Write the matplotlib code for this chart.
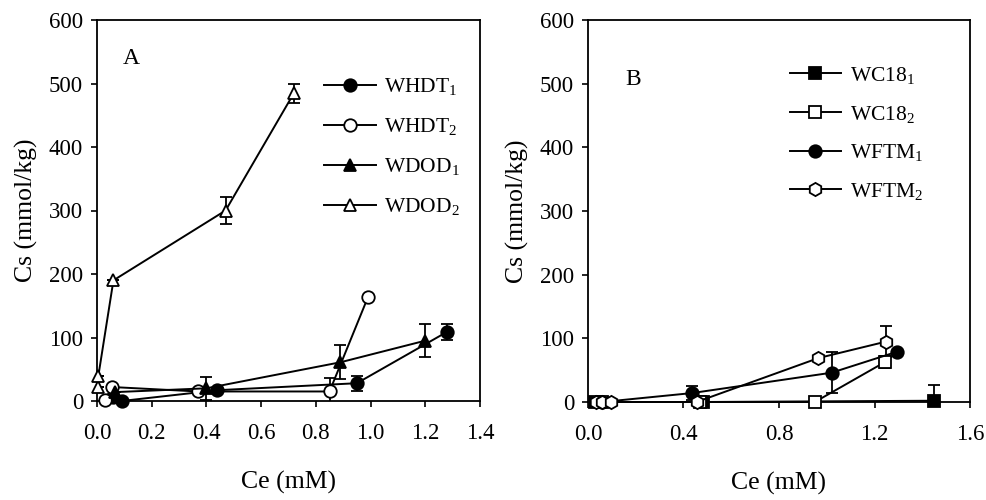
import matplotlib
matplotlib.use('Agg')
import matplotlib.pyplot as plt

plt.rcParams['font.family'] = ['Liberation Serif', 'DejaVu Serif']
plt.rcParams['mathtext.fontset'] = 'custom'
plt.rcParams['mathtext.rm'] = 'Liberation Serif'
plt.rcParams['mathtext.default'] = 'rm'
plt.rcParams['font.size'] = 15

# panel A
whdt1_x = [0.06, 0.09, 0.44, 0.95, 1.28]
whdt1_y = [6, 0, 17, 28, 109]
whdt1_err = [0, 0, 0, 12, 13]

whdt2_x = [0.03, 0.055, 0.37, 0.85, 0.99]
whdt2_y = [2, 22, 15, 15, 163]
whdt2_err = [0, 0, 0, 22, 0]

wdod1_x = [0.066, 0.40, 0.89, 1.20]
wdod1_y = [14, 20, 61, 95]
wdod1_err = [0, 18, 27, 26]

wdod2_x = [0.005, 0.005, 0.06, 0.47, 0.72]
wdod2_y = [22, 40, 190, 300, 485]
wdod2_err = [0, 0, 0, 22, 15]

# panel B
wc181_x = [0.03, 0.48, 1.45]
wc181_y = [0, 0, 2]
wc181_err = [0, 0, 24]

wc182_x = [0.06, 0.47, 0.95, 1.245]
wc182_y = [0, 0, 0, 63]
wc182_err = [0, 0, 0, 10]

wftm1_x = [0.06, 0.435, 1.02, 1.295]
wftm1_y = [0, 14, 46, 79]
wftm1_err = [0, 11, 32, 0]

wftm2_x = [0.033, 0.06, 0.097, 0.455, 0.965, 1.25]
wftm2_y = [0, 0, 0, 0, 69, 95]
wftm2_err = [0, 0, 0, 0, 0, 25]


def draw(ax, x, y, err, marker, fill, label, ms=9):
    ax.errorbar(x, y, yerr=err, fmt='none', ecolor='black', elinewidth=1.3,
                capsize=4, capthick=1.3, zorder=2)
    ax.plot(x, y, color='black', lw=1.4, marker=marker, ms=ms,
            markerfacecolor=fill, markeredgecolor='black', markeredgewidth=1.3,
            label=label, clip_on=False, zorder=3)


fig = plt.figure(figsize=(9.87, 5.0), dpi=100)
axA = fig.add_axes([0.0983, 0.198, 0.388, 0.762])
axB = fig.add_axes([0.5957, 0.196, 0.3871, 0.764])

draw(axA, whdt1_x, whdt1_y, whdt1_err, 'o', 'black', 'WHDT$_1$')
draw(axA, whdt2_x, whdt2_y, whdt2_err, 'o', 'white', 'WHDT$_2$')
draw(axA, wdod1_x, wdod1_y, wdod1_err, '^', 'black', 'WDOD$_1$')
draw(axA, wdod2_x, wdod2_y, wdod2_err, '^', 'white', 'WDOD$_2$')

draw(axB, wc181_x, wc181_y, wc181_err, 's', 'black', 'WC18$_1$', ms=8)
draw(axB, wc182_x, wc182_y, wc182_err, 's', 'white', 'WC18$_2$', ms=8)
draw(axB, wftm1_x, wftm1_y, wftm1_err, 'o', 'black', 'WFTM$_1$')
draw(axB, wftm2_x, wftm2_y, wftm2_err, 'h', 'white', 'WFTM$_2$', ms=9.5)

axA.set_xlim(0, 1.4)
axA.set_xticks([0.0, 0.2, 0.4, 0.6, 0.8, 1.0, 1.2, 1.4])
axB.set_xlim(0, 1.6)
axB.set_xticks([0.0, 0.4, 0.8, 1.2, 1.6])

for ax in (axA, axB):
    ax.set_ylim(0, 600)
    ax.set_yticks([0, 100, 200, 300, 400, 500, 600])
    ax.xaxis.set_major_formatter(matplotlib.ticker.FormatStrFormatter('%.1f'))
    ax.tick_params(direction='out', length=4, width=1.2, labelsize=16.5)
    ax.tick_params(axis='x', pad=12)
    ax.tick_params(axis='y', pad=6)
    for s in ax.spines.values():
        s.set_linewidth(1.3)
    ax.set_xlabel('Ce (mM)', fontsize=18.5, labelpad=19)
    ax.set_ylabel('Cs (mmol/kg)', fontsize=18.5, labelpad=8)

axA.text(0.09, 0.90, 'A', transform=axA.transAxes, fontsize=17,
         ha='center', va='center')
axB.text(0.118, 0.845, 'B', transform=axB.transAxes, fontsize=17,
         ha='center', va='center')

axA.legend(loc='upper left', bbox_to_anchor=(0.57, 0.875), frameon=False,
           handlelength=2.4, labelspacing=0.88, handletextpad=0.4,
           fontsize=15.5, borderaxespad=0)
axB.legend(loc='upper left', bbox_to_anchor=(0.505, 0.905), frameon=False,
           handlelength=2.4, labelspacing=0.82, handletextpad=0.4,
           fontsize=15.5, borderaxespad=0)

fig.savefig('out.png', dpi=100)
